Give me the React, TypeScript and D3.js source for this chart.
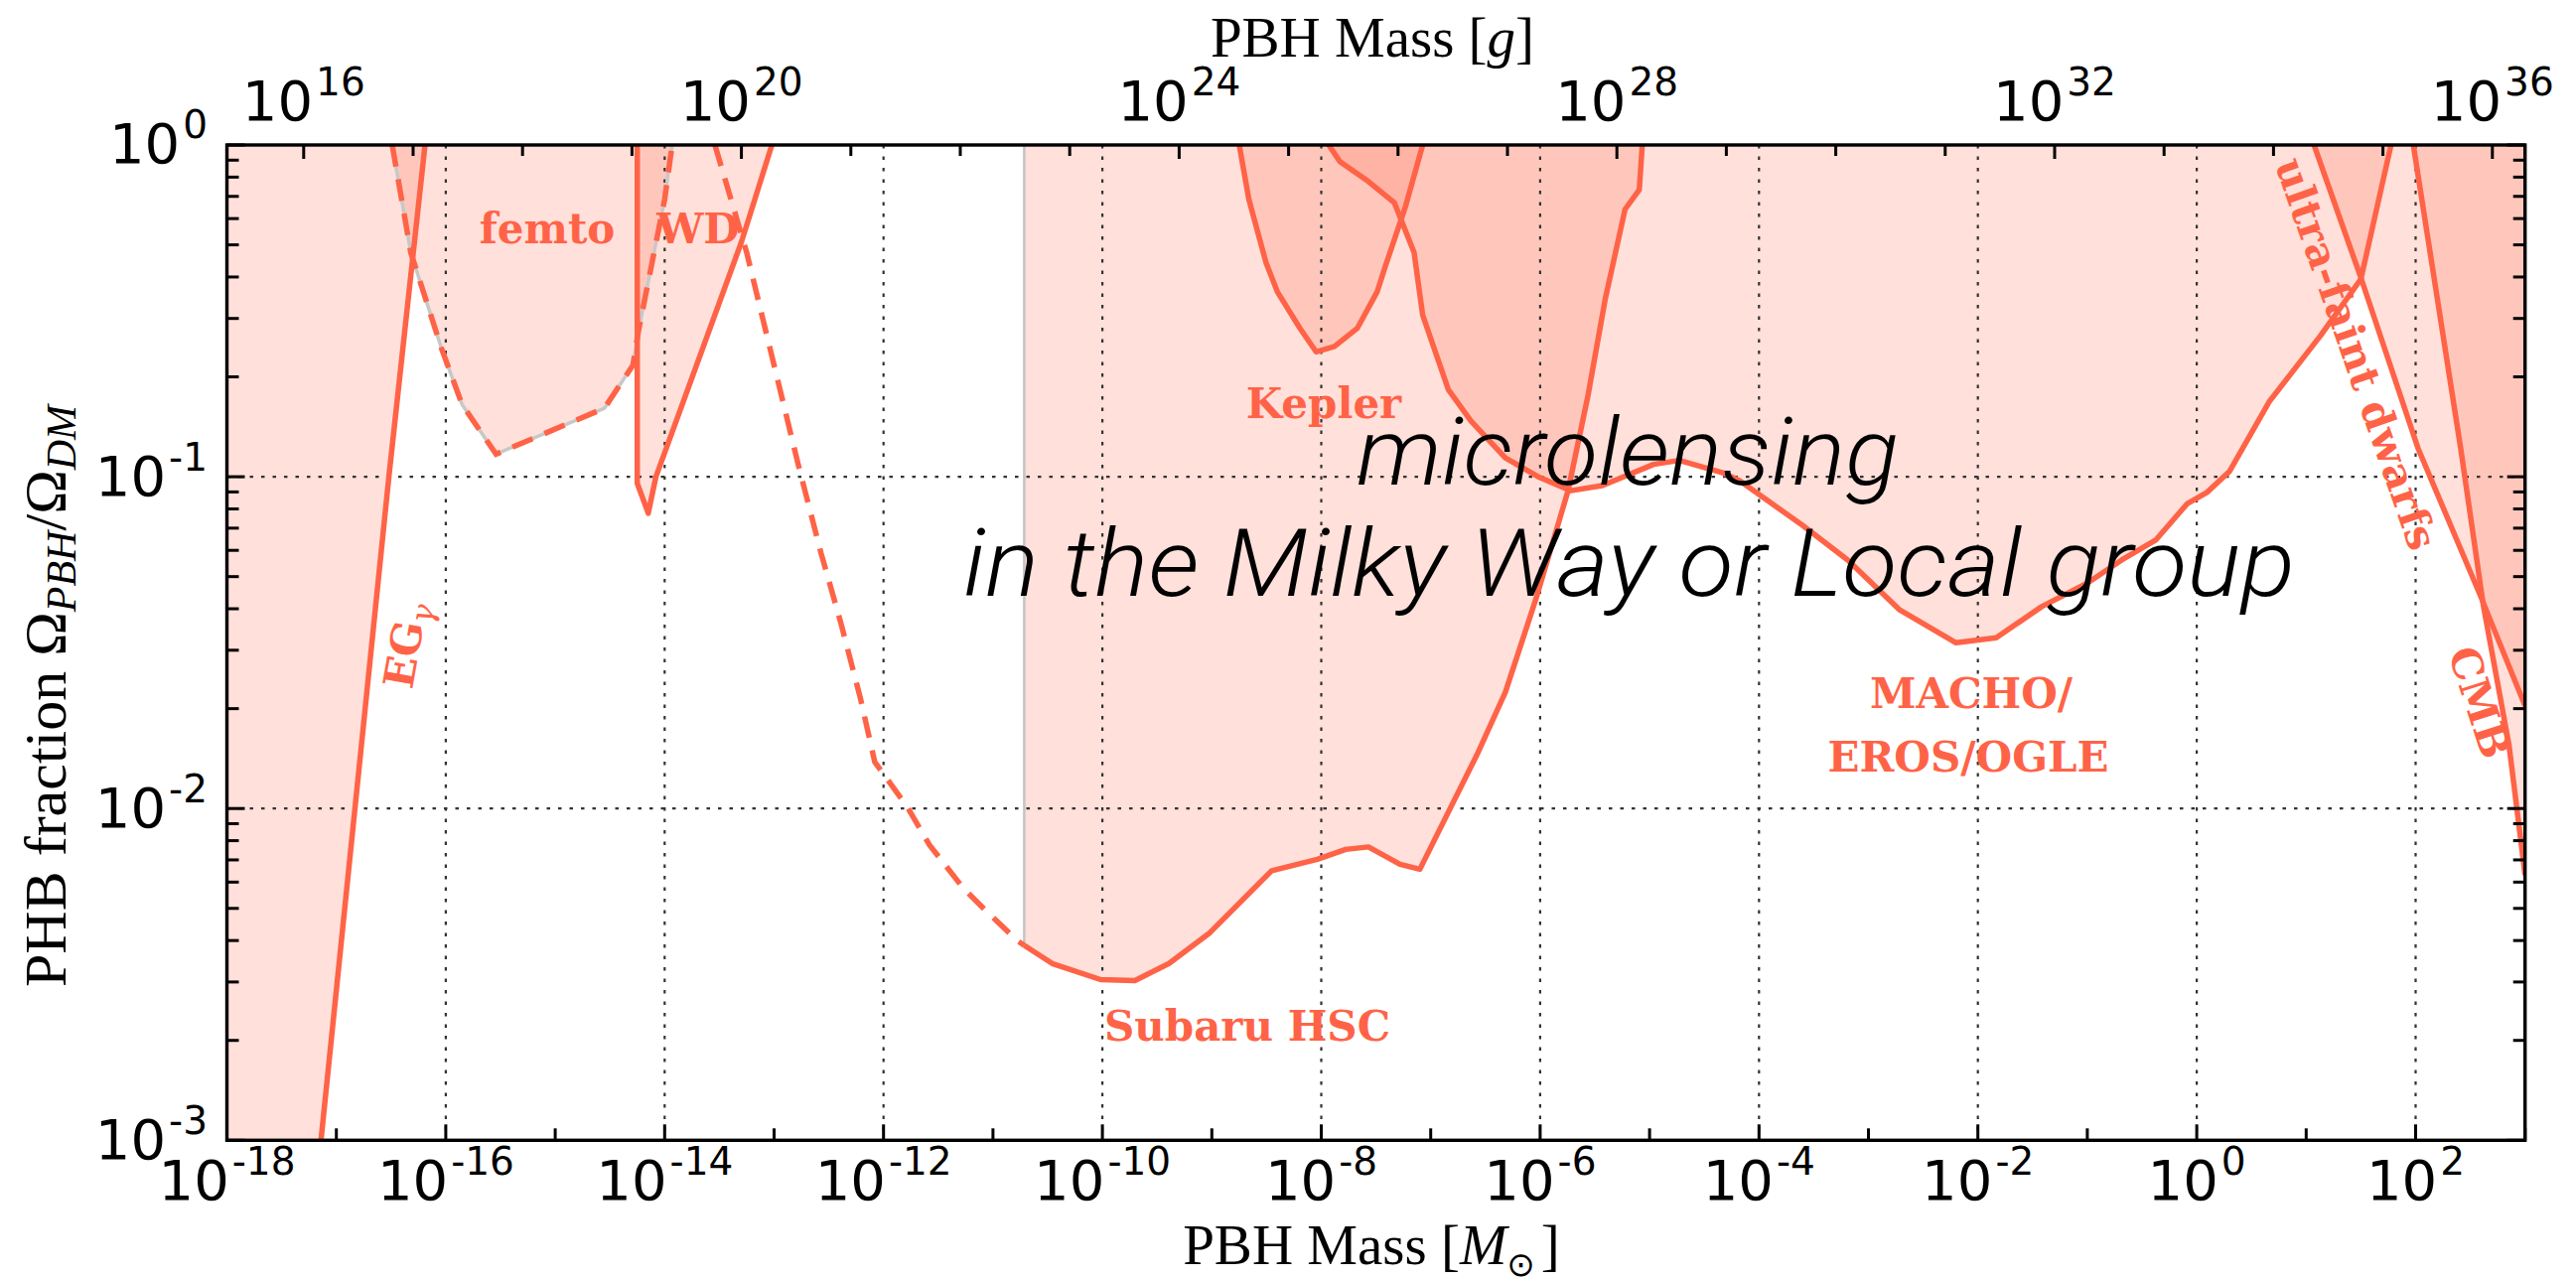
import React from 'react';
import * as d3 from 'd3';

type Pt = [number, number];

// ---------------- data (mass in solar masses, fraction f) ----------------
const xExtent: [number, number] = [1e-18, 1e3];
const yExtent: [number, number] = [1e-3, 1];
const SOLAR_MASS_G = 1.989e33;

const massTickExps = [-18, -17, -16, -15, -14, -13, -12, -11, -10, -9, -8, -7, -6, -5, -4, -3, -2, -1, 0, 1, 2, 3];
const massLabelExps = [-18, -16, -14, -12, -10, -8, -6, -4, -2, 0, 2];
const gramTickExps = [16, 17, 18, 19, 20, 21, 22, 23, 24, 25, 26, 27, 28, 29, 30, 31, 32, 33, 34, 35, 36];
const gramLabelExps = [16, 20, 24, 28, 32, 36];
const fracLabelExps = [-3, -2, -1, 0];
const fracGrid = [1e-2, 1e-1];

const egGamma: Pt[] = [[7.24e-18, 1e-3], [3.02e-17, 0.1], [6.46e-17, 1]];
const femto: Pt[] = [[3.24e-17, 1], [4.79e-17, 0.474], [9.12e-17, 0.244], [1.41e-16, 0.165], [2.88e-16, 0.117], [2.82e-15, 0.161], [5.13e-15, 0.217], [5.75e-15, 0.274], [1.0e-14, 0.686], [1.17e-14, 1]];
const whiteDwarf: Pt[] = [[5.62e-15, 1], [5.62e-15, 0.0955], [7.08e-15, 0.0776], [8.32e-15, 0.1], [5.01e-14, 0.508], [9.55e-14, 1]];
const hscDashed: Pt[] = [[2.88e-14, 1], [5.62e-14, 0.474], [1.66e-13, 0.109], [2.69e-13, 0.0587], [4.07e-13, 0.0363], [6.17e-13, 0.0214], [8.32e-13, 0.0138], [1.62e-12, 0.0102], [2.63e-12, 0.00776], [5.37e-12, 0.00575], [8.71e-12, 0.0049], [1.70e-11, 0.00398], [1.93e-11, 0.00387]];
const subaruHSC: Pt[] = [[1.93e-11, 0.00387], [3.48e-11, 0.00341], [9.64e-11, 0.00305], [1.98e-10, 0.00303], [4.06e-10, 0.00341], [9.42e-10, 0.0042], [3.52e-9, 0.00649], [9.2e-9, 0.00703], [1.67e-8, 0.00753], [2.70e-8, 0.00766], [5.24e-8, 0.00679], [7.96e-8, 0.00656], [2.64e-7, 0.0145], [4.81e-7, 0.0224], [9.31e-7, 0.0436], [1.80e-6, 0.0908], [2.73e-6, 0.175], [3.94e-6, 0.344], [5.97e-6, 0.64], [8.05e-6, 0.733], [8.57e-6, 1]];
const hscEdge: Pt[] = [[1.93e-11, 0.00387], [1.93e-11, 1]];
const kepler: Pt[] = [[1.78e-9, 1], [2.18e-9, 0.686], [3.12e-9, 0.443], [3.97e-9, 0.361], [6.40e-9, 0.28], [8.97e-9, 0.238], [1.32e-8, 0.247], [2.13e-8, 0.28], [3.24e-8, 0.361], [3.87e-8, 0.433], [5.89e-8, 0.653], [8.45e-8, 1]];
const macho: Pt[] = [[1.17e-8, 1], [1.48e-8, 0.891], [2.70e-8, 0.776], [4.65e-8, 0.67], [7.05e-8, 0.474], [8.45e-8, 0.307], [1.45e-7, 0.183], [2.34e-7, 0.147], [4.81e-7, 0.114], [9.89e-7, 0.0995], [1.91e-6, 0.0908], [3.70e-6, 0.094], [1.09e-5, 0.109], [1.87e-5, 0.112], [4.59e-5, 0.103], [6.64e-5, 0.0973], [2.48e-4, 0.0715], [6.47e-4, 0.0561], [1.91e-3, 0.0398], [6.32e-3, 0.0316], [1.47e-2, 0.0327], [3.83e-2, 0.0406], [9.98e-2, 0.0478], [0.206, 0.0561], [0.421, 0.0644], [0.815, 0.0828], [1.24, 0.0897], [2.0, 0.104], [4.63, 0.169], [13.6, 0.267], [31.6, 0.394], [59.6, 1]];
const ultraFaintDwarfs: Pt[] = [[11.8, 1], [31.6, 0.398], [105, 0.122], [393, 0.0436], [1000, 0.0204]];
const cmb: Pt[] = [[95.3, 1], [258, 0.122], [417, 0.0407], [714, 0.0155], [1000, 0.0063]];

// ---------------- layout ----------------
const W = 2594, H = 1288;
const L = 228.5, R = 2542.7, T = 146, B = 1148.3;
const C = '#ff6347';
const LW = 5.5;

const x = d3.scaleLog().domain(xExtent).range([L, R]);
const y = d3.scaleLog().domain(yExtent).range([B, T]);
const line = d3.line<Pt>().x(d => x(d[0])).y(d => y(d[1]));

const closed = (pts: Pt[]) => (line(pts) || '') + 'Z';

const fills: string[] = [
  closed([[xExtent[0], yExtent[0]], ...egGamma, [xExtent[0], yExtent[1]]]),
  closed(femto),
  closed(whiteDwarf),
  closed([[hscEdge[1][0], hscEdge[1][1]], ...subaruHSC]),
  closed(kepler),
  closed(macho),
  closed([...ultraFaintDwarfs, [xExtent[1], yExtent[1]]]),
  closed([...cmb, [xExtent[1], yExtent[1]]]),
];

const tickFont = 'DejaVu Sans';

function PowLabel({ px, py, exp, anchor }: { px: number; py: number; exp: number; anchor: 'middle' | 'end' }) {
  return (
    <text x={px} y={py} textAnchor={anchor} fontFamily={tickFont} fill="#000">
      <tspan fontSize={56}>10</tspan>
      <tspan fontSize={39} dy={-25} dx={3}>{String(exp)}</tspan>
    </text>
  );
}

export default function App() {
  const yTicks = y.ticks();
  const isMajorY = (v: number) => Math.abs(Math.log10(v) - Math.round(Math.log10(v))) < 1e-6;
  const gramToSolar = (e: number) => Math.pow(10, e) / SOLAR_MASS_G;

  return (
    <svg width={W} height={H} style={{ position: 'absolute', left: 0, top: 0, background: '#fff' }}>
      <defs>
        <clipPath id="plot">
          <rect x={L} y={T} width={R - L} height={B - T} />
        </clipPath>
      </defs>
      <rect x={0} y={0} width={W} height={H} fill="#fff" />
      <g clipPath="url(#plot)">
        {fills.map((d, i) => (
          <path key={i} d={d} fill={C} fillOpacity={0.2} stroke="none" />
        ))}
        {/* grid */}
        {massLabelExps.map(e => (
          <line key={'gx' + e} x1={x(Math.pow(10, e))} x2={x(Math.pow(10, e))} y1={T} y2={B} stroke="#333" strokeWidth={2.2} strokeDasharray="3.5,8" />
        ))}
        {fracGrid.map(v => (
          <line key={'gy' + v} x1={L} x2={R} y1={y(v)} y2={y(v)} stroke="#333" strokeWidth={2.2} strokeDasharray="3.5,8" />
        ))}
        {/* boundary lines */}
        <path d={line(hscEdge) || ''} fill="none" stroke="#c4c4c4" strokeWidth={2.5} />
        <path d={line(femto) || ''} fill="none" stroke="#c8c8c8" strokeWidth={3.5} />
        <path d={line(femto) || ''} fill="none" stroke={C} strokeWidth={LW} strokeDasharray="22,13" />
        <path d={line(hscDashed) || ''} fill="none" stroke={C} strokeWidth={LW} strokeDasharray="22,13" />
        {[egGamma, whiteDwarf, subaruHSC, kepler, macho, ultraFaintDwarfs, cmb].map((pts, i) => (
          <path key={'l' + i} d={line(pts) || ''} fill="none" stroke={C} strokeWidth={LW} strokeLinejoin="round" />
        ))}
      </g>

      {/* constraint labels */}
      <g fontFamily="DejaVu Serif" fontWeight="bold" fontSize={42} fill={C}>
        <text x={551} y={245} textAnchor="middle">femto</text>
        <text x={703} y={245} textAnchor="middle">WD</text>
        <text x={1333} y={421} textAnchor="middle">Kepler</text>
        <text x={1256} y={1048} textAnchor="middle">Subaru HSC</text>
        <text x={1985} y={713} textAnchor="middle">MACHO/</text>
        <text x={1982} y={777} textAnchor="middle">EROS/OGLE</text>
        <text transform="translate(2359,361) rotate(70.7)" textAnchor="middle">ultra-faint dwarfs</text>
        <text transform="translate(2465,657) rotate(72)" textAnchor="start">CMB</text>
        <text transform="translate(415,695) rotate(-80)" textAnchor="start">
          EG<tspan fontStyle="italic" fontWeight="normal" fontSize={32} dy={8}>γ</tspan>
        </text>
      </g>

      {/* big annotation */}
      <g fontFamily="Roboto, 'Liberation Sans', sans-serif" fontStyle="italic" fontWeight={300} fontSize={95} fill="#000">
        <text x={1366} y={488} textLength={546} lengthAdjust="spacingAndGlyphs">microlensing</text>
        <text x={970} y={600} textLength={1341} lengthAdjust="spacingAndGlyphs">in the Milky Way or Local group</text>
      </g>

      {/* axes frame */}
      <rect x={L} y={T} width={R - L} height={B - T} fill="none" stroke="#000" strokeWidth={3.4} />

      {/* bottom ticks */}
      {massTickExps.map(e => {
        const major = e % 2 === 0;
        const px = x(Math.pow(10, e));
        const len = major ? 16 : 12;
        return <line key={'bt' + e} x1={px} x2={px} y1={B} y2={B - len} stroke="#000" strokeWidth={3} />;
      })}
      {massLabelExps.map(e => (
        <PowLabel key={'bl' + e} px={x(Math.pow(10, e))} py={1208} exp={e} anchor="middle" />
      ))}

      {/* top (grams) ticks */}
      {gramTickExps.map(e => {
        const major = gramLabelExps.includes(e);
        const px = x(gramToSolar(e));
        if (px < L || px > R) return null;
        const len = major ? 14 : 11;
        return <line key={'tt' + e} x1={px} x2={px} y1={T} y2={T + len} stroke="#000" strokeWidth={3} />;
      })}
      {gramLabelExps.map(e => (
        <PowLabel key={'tl' + e} px={x(gramToSolar(e))} py={121} exp={e} anchor="middle" />
      ))}

      {/* left & right ticks */}
      {yTicks.map((v, i) => {
        const major = isMajorY(v);
        const py = y(v);
        const len = major ? 18 : 12;
        return (
          <g key={'yt' + i}>
            <line x1={L} x2={L + len} y1={py} y2={py} stroke="#000" strokeWidth={3} />
            <line x1={R} x2={R - len} y1={py} y2={py} stroke="#000" strokeWidth={3} />
          </g>
        );
      })}
      {fracLabelExps.map(e => (
        <PowLabel key={'yl' + e} px={209} py={y(Math.pow(10, e)) + 18.4} exp={e} anchor="end" />
      ))}

      {/* axis titles */}
      <text x={1382} y={57} textAnchor="middle" fontFamily="Liberation Serif" fontSize={57} fill="#000">
        PBH Mass [<tspan fontStyle="italic">g</tspan>]
      </text>
      <text x={1381} y={1273} textAnchor="middle" fontFamily="Liberation Serif" fontSize={57} fill="#000">
        PBH Mass [<tspan fontStyle="italic">M</tspan>
        <tspan fontSize={34} dy={12} fontFamily="DejaVu Sans">⊙</tspan>
        <tspan dy={-12} dx={6}>]</tspan>
      </text>
      <text transform="translate(66,701) rotate(-90)" textAnchor="middle" fontFamily="Liberation Serif" fontSize={60} fill="#000">
        PHB fraction Ω<tspan fontStyle="italic" fontSize={42} dy={10}>PBH</tspan>
        <tspan dy={-10}>/Ω</tspan>
        <tspan fontStyle="italic" fontSize={42} dy={10}>DM</tspan>
      </text>
    </svg>
  );
}
